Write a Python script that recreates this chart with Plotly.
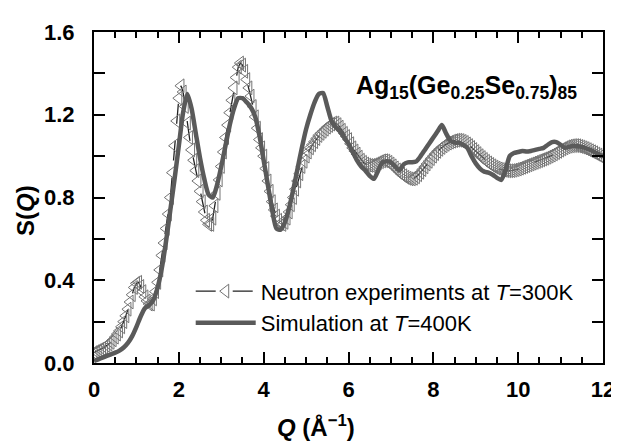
import numpy as np
import plotly.graph_objects as go

# ---------------- data ----------------
q_exp = np.round(np.arange(0, 12.0001, 0.05), 2)
s_exp = [
    0.050, 0.055, 0.060, 0.065, 0.070, 0.077, 0.085, 0.092, 0.100, 0.112,
    0.125, 0.140, 0.155, 0.175, 0.200, 0.228, 0.260, 0.295, 0.330, 0.365,
    0.385, 0.390, 0.370, 0.345, 0.320, 0.300, 0.285, 0.285, 0.310, 0.345,
    0.390, 0.450, 0.520, 0.580, 0.650, 0.720, 0.800, 0.920, 1.050, 1.170,
    1.280, 1.340, 1.310, 1.240, 1.160, 1.090, 1.030, 0.980, 0.930, 0.880,
    0.830, 0.780, 0.730, 0.690, 0.670, 0.670, 0.700, 0.760, 0.820, 0.885,
    0.950, 1.020, 1.090, 1.150, 1.210, 1.270, 1.330, 1.380, 1.430, 1.450,
    1.440, 1.410, 1.370, 1.330, 1.290, 1.240, 1.190, 1.135, 1.080, 1.040,
    1.000, 0.940, 0.880, 0.830, 0.780, 0.740, 0.710, 0.690, 0.675, 0.670,
    0.680, 0.700, 0.730, 0.765, 0.800, 0.840, 0.880, 0.915, 0.950, 0.975,
    1.000, 1.020, 1.040, 1.055, 1.070, 1.085, 1.100, 1.110, 1.120, 1.130,
    1.140, 1.148, 1.155, 1.160, 1.160, 1.152, 1.140, 1.125, 1.110, 1.095,
    1.080, 1.060, 1.040, 1.025, 1.010, 0.995, 0.980, 0.970, 0.962, 0.957,
    0.955, 0.955, 0.958, 0.963, 0.968, 0.973, 0.977, 0.978, 0.976, 0.970,
    0.962, 0.953, 0.943, 0.933, 0.923, 0.913, 0.905, 0.898, 0.893, 0.890,
    0.890, 0.893, 0.900, 0.910, 0.922, 0.935, 0.948, 0.962, 0.975, 0.988,
    1.000, 1.012, 1.023, 1.033, 1.042, 1.050, 1.057, 1.063, 1.068, 1.072,
    1.075, 1.077, 1.077, 1.075, 1.071, 1.066, 1.059, 1.051, 1.042, 1.032,
    1.022, 1.012, 1.002, 0.993, 0.984, 0.975, 0.967, 0.960, 0.953, 0.947,
    0.942, 0.938, 0.935, 0.932, 0.930, 0.929, 0.929, 0.930, 0.932, 0.935,
    0.938, 0.942, 0.946, 0.950, 0.954, 0.958, 0.962, 0.966, 0.970, 0.974,
    0.978, 0.982, 0.986, 0.990, 0.995, 1.000, 1.005, 1.011, 1.017, 1.023,
    1.029, 1.035, 1.040, 1.045, 1.048, 1.050, 1.051, 1.051, 1.050, 1.047,
    1.044, 1.040, 1.036, 1.031, 1.026, 1.021, 1.016, 1.010, 1.005, 0.999,
    0.993,
]

q_sim = np.round(np.arange(0, 12.0001, 0.1), 1)
s_sim = [
    0.010, 0.018, 0.026, 0.034, 0.042, 0.050, 0.060, 0.075, 0.097, 0.130,
    0.175, 0.225, 0.265, 0.280, 0.305, 0.365, 0.460, 0.590, 0.740, 0.890,
    1.050, 1.210, 1.300, 1.230, 1.110, 0.990, 0.890, 0.815, 0.800, 0.860,
    0.950, 1.050, 1.150, 1.230, 1.280, 1.280, 1.260, 1.235, 1.190, 1.100,
    0.980, 0.860, 0.740, 0.650, 0.645, 0.680, 0.750, 0.840, 0.940, 1.040,
    1.130, 1.200, 1.260, 1.300, 1.305, 1.240, 1.170, 1.140, 1.120, 1.090,
    1.060, 1.020, 0.980, 0.950, 0.930, 0.905, 0.890, 0.930, 0.970, 0.975,
    0.970, 0.950, 0.930, 0.960, 0.970, 0.970, 0.975, 1.000, 1.030, 1.060,
    1.090, 1.120, 1.150, 1.110, 1.075, 1.065, 1.065, 1.055, 1.040, 1.000,
    0.965, 0.940, 0.925, 0.920, 0.910, 0.895, 0.885, 0.930, 1.000, 1.015,
    1.020, 1.025, 1.022, 1.025, 1.030, 1.035, 1.040, 1.055, 1.068, 1.068,
    1.055, 1.040, 1.045, 1.050, 1.048, 1.044, 1.038, 1.030, 1.020, 1.010,
    0.995,
]

x_ticks = [0, 2, 4, 6, 8, 10, 12]
y_ticks = [0.0, 0.4, 0.8, 1.2, 1.6]
y_tick_text = ["0.0", "0.4", "0.8", "1.2", "1.6"]

name_exp = "Neutron experiments at <i>T</i>=300K"
name_sim = "Simulation at <i>T</i>=400K"
formula = "<b>Ag<sub>15</sub>(Ge<sub>0.25</sub>Se<sub>0.75</sub>)<sub>85</sub></b>"

FONT = "Liberation Sans, Arial, Helvetica, sans-serif"

fig = go.Figure()
fig.add_trace(go.Scatter(
    x=q_exp, y=s_exp, name=name_exp, mode="lines+markers",
    line=dict(color="#222222", width=1.3, dash="20px,17px"),
    marker=dict(symbol="triangle-left-open", size=12,
                color="#747474", line=dict(width=1, color="#747474")),
    legendgroup="a",
))
fig.add_trace(go.Scatter(
    x=q_sim, y=s_sim, name=name_sim, mode="lines",
    line=dict(color="#5a5a5a", width=4.5, shape="spline", smoothing=0.6),
    legendgroup="b",
))

axis_common = dict(
    showline=True, linecolor="black", linewidth=2, mirror="allticks",
    ticks="inside", tickwidth=2, ticklen=11, tickcolor="black",
    showgrid=False, zeroline=False,
    tickfont=dict(family=FONT, size=22, color="black", weight="bold"),
)

fig.update_xaxes(
    range=[0, 12], tickvals=x_ticks,
    minor=dict(dtick=0.5, ticks="inside", ticklen=6, tickwidth=2, tickcolor="black"),
    ticklabelstandoff=6,
    **axis_common,
)
fig.update_yaxes(
    range=[0, 1.6], tickvals=y_ticks, ticktext=y_tick_text,
    minor=dict(dtick=0.2, ticks="inside", ticklen=11, tickwidth=2, tickcolor="black"),
    ticklabelstandoff=13,
    **axis_common,
)

fig.add_annotation(
    text="<b>S(<i>Q</i>)</b>", textangle=-90, xref="paper", yref="paper",
    x=-0.135, y=0.46, xanchor="center", yanchor="middle", showarrow=False,
    font=dict(family=FONT, size=24, color="black"),
)
fig.add_annotation(
    text="<b><i>Q</i> (Å<sup>−1</sup>)</b>", xref="paper", yref="paper",
    x=0.437, y=-0.19, xanchor="center", yanchor="middle", showarrow=False,
    font=dict(family=FONT, size=24, color="black"),
)
fig.add_annotation(
    text=formula, xref="paper", yref="paper",
    x=0.731, y=0.835, xanchor="center", yanchor="middle", showarrow=False,
    font=dict(family=FONT, size=25, color="black"),
)

# the page body adds an 8px offset; margins are shifted to compensate
fig.update_layout(
    width=619, height=441,
    margin=dict(l=86, r=23, t=16, b=86),
    paper_bgcolor="white", plot_bgcolor="white",
    showlegend=True,
    legend=dict(
        x=0.19, y=0.28, xanchor="left", yanchor="top",
        bgcolor="rgba(0,0,0,0)", borderwidth=0,
        font=dict(family=FONT, size=22, color="black"),
        itemwidth=60, tracegroupgap=0,
    ),
)

fig.write_html("out.html")
